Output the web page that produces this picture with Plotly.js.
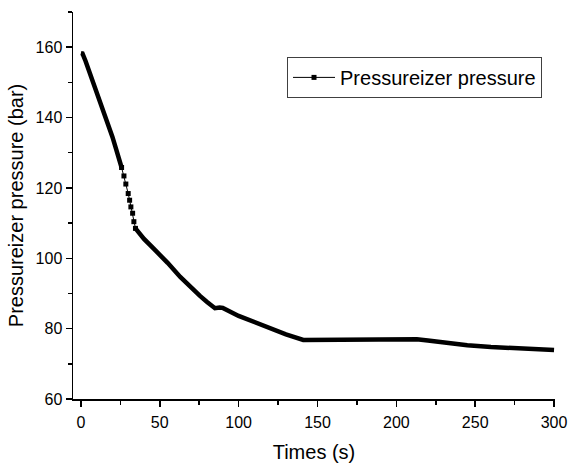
<!DOCTYPE html>
<html>
<head>
<meta charset="utf-8">
<script src="https://cdn.plot.ly/plotly-3.0.1.min.js"></script>
<style>
  html, body { margin: 0; padding: 0; background: #fff; }
  #chart { width: 569px; height: 463px; }
</style>
</head>
<body>
<div id="chart"></div>
<script>
// Segment 1: steady fast depressurisation (dense samples, drawn as a thick curve)
const timeEarly = [0, 1, 3, 5, 8, 10, 13, 15, 18, 20, 22, 24, 25.8];
const pressEarly = [158.3, 158.2, 156.0, 153.5, 150.0, 147.5, 143.5, 141.0, 137.0, 134.5, 131.5, 128.8, 125.8];

// Segment 2: rapid drop (sparse samples, visible as separate squares)
const timeDrop = [25.8, 27.3, 28.5, 30.0, 30.9, 31.7, 32.8, 33.6, 34.6];
const pressDrop = [125.8, 123.4, 121.1, 118.4, 116.5, 114.6, 112.8, 110.4, 108.5];

// Segment 3: slow decay to the end
const timeLate = [34.6, 40, 46, 50, 55, 63, 70, 75.5, 80, 85, 88, 90, 100, 110, 120, 130, 141,
                  150, 170, 190, 213, 220, 230, 245, 260, 280, 300];
const pressLate = [108.5, 105.5, 102.8, 101.0, 98.7, 94.7, 91.5, 89.3, 87.6, 85.8, 86.0, 85.9, 83.6, 81.8, 80.0, 78.4, 76.8,
                   76.8, 76.9, 77.0, 77.0, 76.6, 76.0, 75.3, 74.8, 74.3, 73.9];

const seriesName = 'Pressureizer pressure';
const xTickVals = [0, 50, 100, 150, 200, 250, 300];
const yTickVals = [60, 80, 100, 120, 140, 160];

const FONT = '"Liberation Sans", Arial, sans-serif';

const traces = [
  {
    x: timeEarly, y: pressEarly, type: 'scatter', mode: 'lines',
    line: { color: '#000', width: 4.5 },
    showlegend: false, hoverinfo: 'skip'
  },
  {
    x: timeDrop, y: pressDrop, type: 'scatter', mode: 'lines+markers',
    name: seriesName,
    line: { color: '#000', width: 1 },
    marker: { symbol: 'square', size: 5, color: '#000' },
    showlegend: true
  },
  {
    x: timeLate, y: pressLate, type: 'scatter', mode: 'lines',
    line: { color: '#000', width: 4.5 },
    showlegend: false, hoverinfo: 'skip'
  }
];

const axisCommon = {
  showline: true, linecolor: '#000', linewidth: 1.5,
  showgrid: false, zeroline: false,
  ticks: 'outside', ticklen: 6, tickwidth: 1.5, tickcolor: '#000',
  tickfont: { family: FONT, size: 16, color: '#000' }
};

const layout = {
  width: 569, height: 463,
  paper_bgcolor: '#fff', plot_bgcolor: '#fff',
  margin: { l: 73, r: 14, t: 12, b: 64 },
  font: { family: FONT, color: '#000' },
  xaxis: Object.assign({}, axisCommon, {
    range: [-5, 300.6],
    ticklabelstandoff: 2,
    tickmode: 'array', tickvals: xTickVals, ticktext: xTickVals.map(String),
    minor: { dtick: 25, tick0: 0, ticks: 'outside', ticklen: 4, tickwidth: 1.5, tickcolor: '#000', showgrid: false },
    title: { text: 'Times (s)', font: { family: FONT, size: 20, color: '#000' } }
  }),
  yaxis: Object.assign({}, axisCommon, {
    range: [60, 170],
    tickmode: 'array', tickvals: yTickVals, ticktext: yTickVals.map(String),
    minor: { dtick: 10, tick0: 60, ticks: 'outside', ticklen: 4, tickwidth: 1.5, tickcolor: '#000', showgrid: false },
    title: { text: 'Pressureizer pressure (bar)', font: { family: FONT, size: 20, color: '#000' } }
  }),
  legend: {
    x: 0.444, y: 0.884, xanchor: 'left', yanchor: 'top',
    bgcolor: '#fff', bordercolor: '#404040', borderwidth: 1,
    font: { family: FONT, size: 20, color: '#000' },
    itemwidth: 42
  },
  showlegend: true
};

Plotly.newPlot('chart', traces, layout, { displayModeBar: false, staticPlot: true });
</script>
</body>
</html>
